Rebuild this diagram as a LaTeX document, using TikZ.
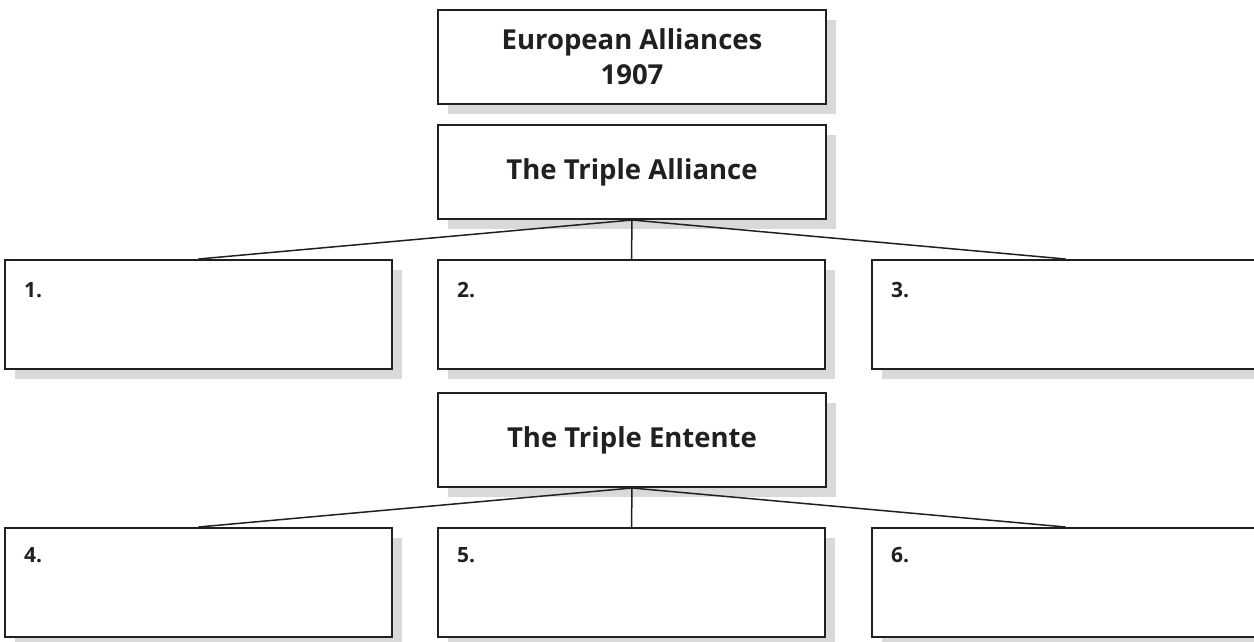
\documentclass[tikz,border=0pt]{standalone}
\usepackage{fontspec}
\setmainfont{Open Sans}
\usetikzlibrary{shadows}
\definecolor{ink}{HTML}{231F20}
\definecolor{shade}{HTML}{D9D9D9}
\tikzset{
  card/.style={draw=ink, line width=2pt, fill=white, anchor=north west,
    inner sep=0pt,
    drop shadow={shadow xshift=10pt, shadow yshift=-10pt, fill=shade, opacity=1}},
  headbox/.style={card, minimum width=388pt, minimum height=94pt,
    font=\bfseries\fontsize{27.5}{35}\selectfont, text=ink, align=center},
  leafbox/.style={card, minimum width=387pt, minimum height=109pt},
  num/.style={anchor=west, inner sep=0pt, text=ink,
    font=\bfseries\fontsize{21}{23}\selectfont},
  link/.style={draw=ink, line width=1.5pt}
}
\begin{document}
\begin{tikzpicture}[x=1pt, y=-1pt]
\useasboundingbox (0,0) rectangle (1254,641);

% headings
\node[headbox] (ea) at (437,9) {European Alliances\\1907};
\node[headbox] (ta) at (437,124) {The Triple Alliance};
\node[headbox] (te) at (437,392) {The Triple Entente};

% members of the Triple Alliance
\node[leafbox] (l1) at (4,259) {};
\node[leafbox] (l2) at (437,259) {};
\node[leafbox] (l3) at (871,259) {};

% members of the Triple Entente
\node[leafbox] (l4) at (4,527) {};
\node[leafbox] (l5) at (437,527) {};
\node[leafbox] (l6) at (871,527) {};

% numbers
\node[num] (n1) at ([xshift=20pt, yshift=-31pt]l1.north west) {1.};
\node[num] (n2) at ([xshift=20pt, yshift=-31pt]l2.north west) {2.};
\node[num] (n3) at ([xshift=20pt, yshift=-31pt]l3.north west) {3.};
\node[num] (n4) at ([xshift=20pt, yshift=-28pt]l4.north west) {4.};
\node[num] (n5) at ([xshift=20pt, yshift=-28pt]l5.north west) {5.};
\node[num] (n6) at ([xshift=20pt, yshift=-28pt]l6.north west) {6.};

% connectors
\draw[link] (ta.south) -- (l1.north);
\draw[link] (ta.south) -- (l2.north);
\draw[link] (ta.south) -- (l3.north);
\draw[link] (te.south) -- (l4.north);
\draw[link] (te.south) -- (l5.north);
\draw[link] (te.south) -- (l6.north);
\end{tikzpicture}
\end{document}
